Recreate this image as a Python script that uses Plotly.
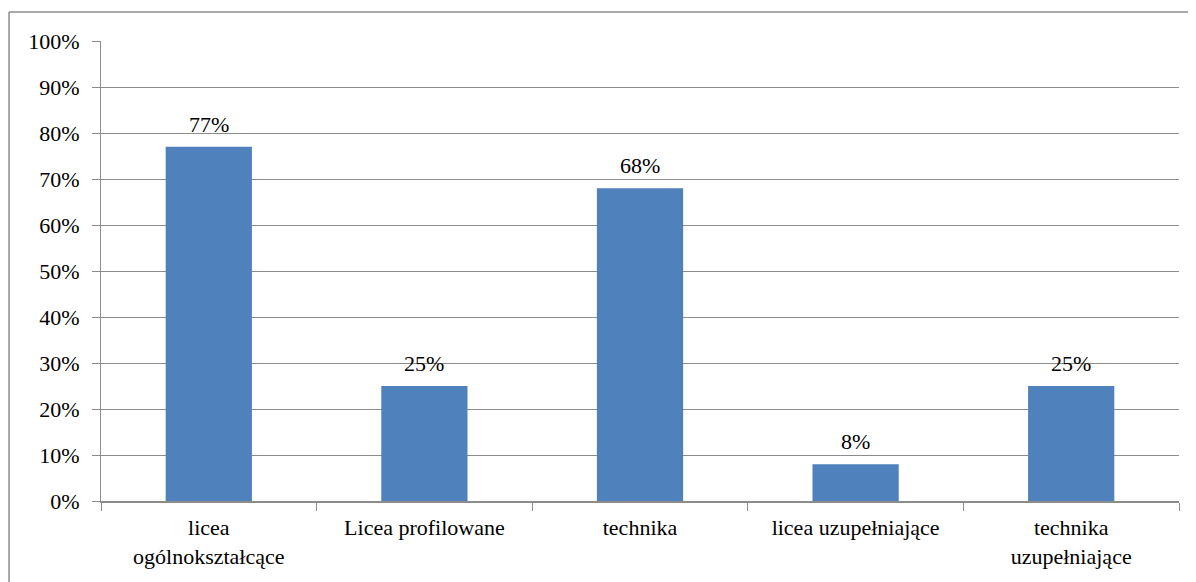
import plotly.graph_objects as go

categories = [
    "licea<br>ogólnokształcące",
    "Licea profilowane",
    "technika",
    "licea uzupełniające",
    "technika<br>uzupełniające",
]
values = [0.77, 0.25, 0.68, 0.08, 0.25]
y_ticks = [i / 10 for i in range(11)]
y_tick_labels = [f"{i * 10}%" for i in range(11)]

font_family = "Liberation Serif, Times New Roman, serif"
grid_color = "#8c8c8c"
font_size = 22

fig = go.Figure()
fig.add_trace(
    go.Bar(
        x=categories,
        y=values,
        marker_color="#4F81BD",
        marker_line_width=0,
        hoverinfo="x+y",
    )
)

# data labels above the bars
for cat, val in zip(categories, values):
    fig.add_annotation(
        x=cat,
        y=val,
        text=f"{val:.0%}",
        showarrow=False,
        yanchor="bottom",
        yshift=8,
        font=dict(family=font_family, size=font_size, color="#000000"),
    )

# outer chart frame
frame = dict(type="line", xref="paper", yref="paper", line=dict(color="#8c8c8c", width=1.5))
fig.add_shape(**frame, x0=-0.0853, x1=-0.0853, y0=1.063, y1=-0.25)
fig.add_shape(**frame, x0=-0.0853, x1=1.05, y0=1.063, y1=1.063)

fig.update_layout(
    width=1188,
    height=574,
    margin=dict(l=93, r=17, t=33, b=81),
    paper_bgcolor="white",
    plot_bgcolor="white",
    bargap=0.6,
    showlegend=False,
    font=dict(family=font_family, size=font_size, color="#000000"),
    xaxis=dict(
        showgrid=False,
        showline=True,
        linecolor=grid_color,
        linewidth=1.5,
        ticks="outside",
        tickson="boundaries",
        ticklen=8,
        tickcolor=grid_color,
        ticklabelstandoff=6,
        tickfont=dict(family=font_family, size=font_size),
    ),
    yaxis=dict(
        range=[0, 1],
        tickvals=y_ticks,
        ticktext=y_tick_labels,
        showgrid=True,
        gridcolor=grid_color,
        gridwidth=1,
        showline=True,
        linecolor=grid_color,
        linewidth=1,
        ticks="outside",
        ticklen=8,
        tickcolor=grid_color,
        ticklabelstandoff=8,
        zeroline=False,
        tickfont=dict(family=font_family, size=font_size),
    ),
)

fig.write_html("out.html")
